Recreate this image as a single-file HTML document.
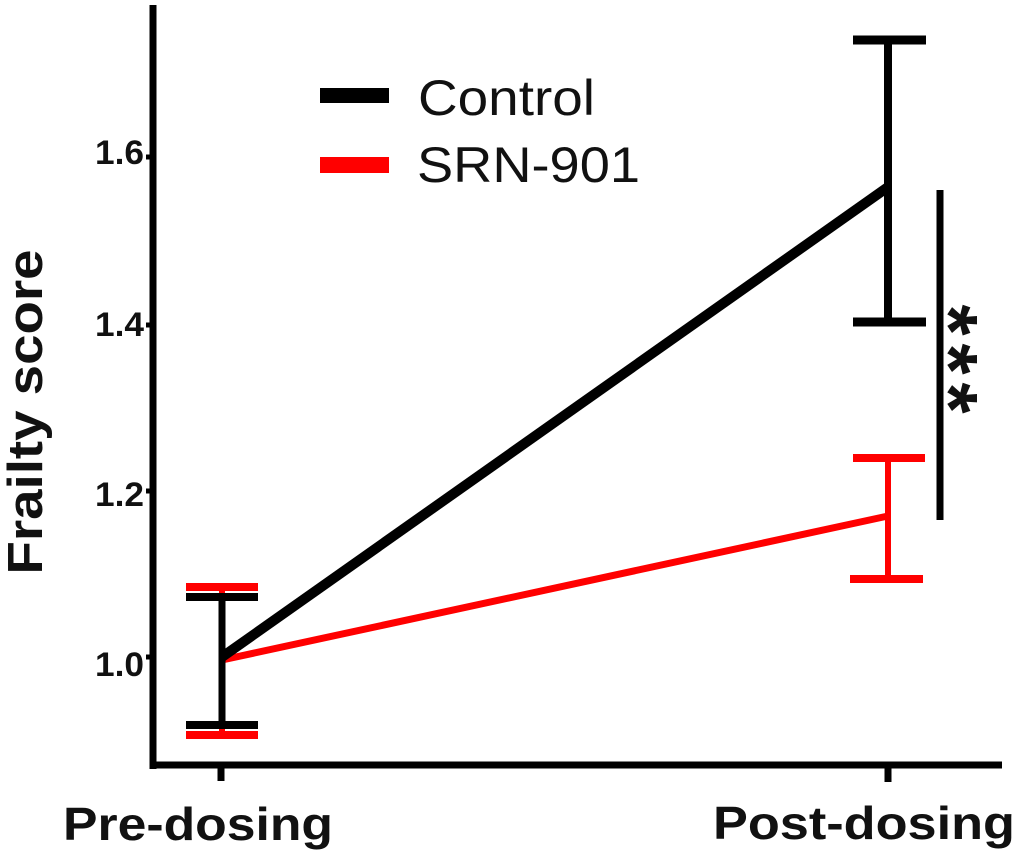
<!DOCTYPE html>
<html><head><meta charset="utf-8"><style>
html,body{margin:0;padding:0;background:#fff;}
svg{display:block;}
text{font-family:"Liberation Sans",Arial,sans-serif;}
</style></head><body>
<svg width="1024" height="861" viewBox="0 0 1024 861" xmlns="http://www.w3.org/2000/svg">
<rect width="1024" height="861" fill="#fff"/>
<!-- axes -->
<line x1="153" y1="5" x2="153" y2="769" stroke="#000" stroke-width="7"/>
<line x1="150" y1="765" x2="1002" y2="765" stroke="#000" stroke-width="7"/>
<!-- x ticks -->
<line x1="221" y1="765" x2="221" y2="781" stroke="#000" stroke-width="7"/>
<line x1="888" y1="765" x2="888" y2="782" stroke="#000" stroke-width="7"/>
<!-- y ticks -->
<g stroke="#000" stroke-width="5">
<line x1="146" y1="157" x2="153" y2="157"/>
<line x1="146" y1="325" x2="153" y2="325"/>
<line x1="146" y1="491" x2="153" y2="491"/>
<line x1="146" y1="657" x2="153" y2="657"/>
</g>
<!-- y tick labels -->
<g font-size="34" font-weight="bold" fill="#111">
<text x="95" y="164" textLength="49" lengthAdjust="spacingAndGlyphs">1.6</text>
<text x="95" y="336" textLength="49" lengthAdjust="spacingAndGlyphs">1.4</text>
<text x="95" y="506" textLength="49" lengthAdjust="spacingAndGlyphs">1.2</text>
<text x="95" y="676" textLength="49" lengthAdjust="spacingAndGlyphs">1.0</text>
</g>
<!-- y axis label -->
<text transform="translate(42,412) rotate(-90)" text-anchor="middle" font-size="49" font-weight="bold" fill="#111" textLength="325" lengthAdjust="spacingAndGlyphs">Frailty score</text>
<!-- x labels -->
<text x="63" y="840" font-size="46" font-weight="bold" fill="#111" textLength="270" lengthAdjust="spacingAndGlyphs">Pre-dosing</text>
<text x="713" y="839" font-size="46" font-weight="bold" fill="#111" textLength="302" lengthAdjust="spacingAndGlyphs">Post-dosing</text>
<!-- red series -->
<g stroke="#ff0000" fill="none">
<line x1="222" y1="587" x2="222" y2="735" stroke-width="6"/>
<line x1="186" y1="587" x2="258" y2="587" stroke-width="8"/>
<line x1="186" y1="735" x2="258" y2="735" stroke-width="8"/>
<line x1="888" y1="458" x2="888" y2="579" stroke-width="6"/>
<line x1="853" y1="458" x2="925" y2="458" stroke-width="8"/>
<line x1="850" y1="579" x2="923" y2="579" stroke-width="8"/>
<line x1="222" y1="660" x2="888" y2="516" stroke-width="7"/>
</g>
<!-- black series -->
<g stroke="#000" fill="none">
<line x1="222" y1="597" x2="222" y2="725" stroke-width="7"/>
<line x1="186" y1="597" x2="258" y2="597" stroke-width="8"/>
<line x1="186" y1="725" x2="258" y2="725" stroke-width="8"/>
<line x1="888" y1="40" x2="888" y2="322" stroke-width="8"/>
<line x1="853" y1="40" x2="926" y2="40" stroke-width="9"/>
<line x1="853" y1="322" x2="926" y2="322" stroke-width="9"/>
<line x1="222" y1="657" x2="888" y2="187" stroke-width="10"/>
</g>
<!-- significance bar -->
<line x1="940" y1="190" x2="940" y2="520" stroke="#000" stroke-width="7"/>
<g font-size="80" font-weight="bold" fill="#111" text-anchor="middle">
<text transform="translate(922,320) rotate(90)">*</text>
<text transform="translate(922,359) rotate(90)">*</text>
<text transform="translate(922,398) rotate(90)">*</text>
</g>
<!-- legend -->
<rect x="320" y="88" width="69" height="15" fill="#000"/>
<rect x="320" y="157" width="69" height="16" fill="#ff0000"/>
<text x="418" y="115" font-size="50" fill="#111" textLength="177" lengthAdjust="spacingAndGlyphs">Control</text>
<text x="417" y="182" font-size="50" fill="#111" textLength="223" lengthAdjust="spacingAndGlyphs">SRN-901</text>
</svg>
</body></html>
